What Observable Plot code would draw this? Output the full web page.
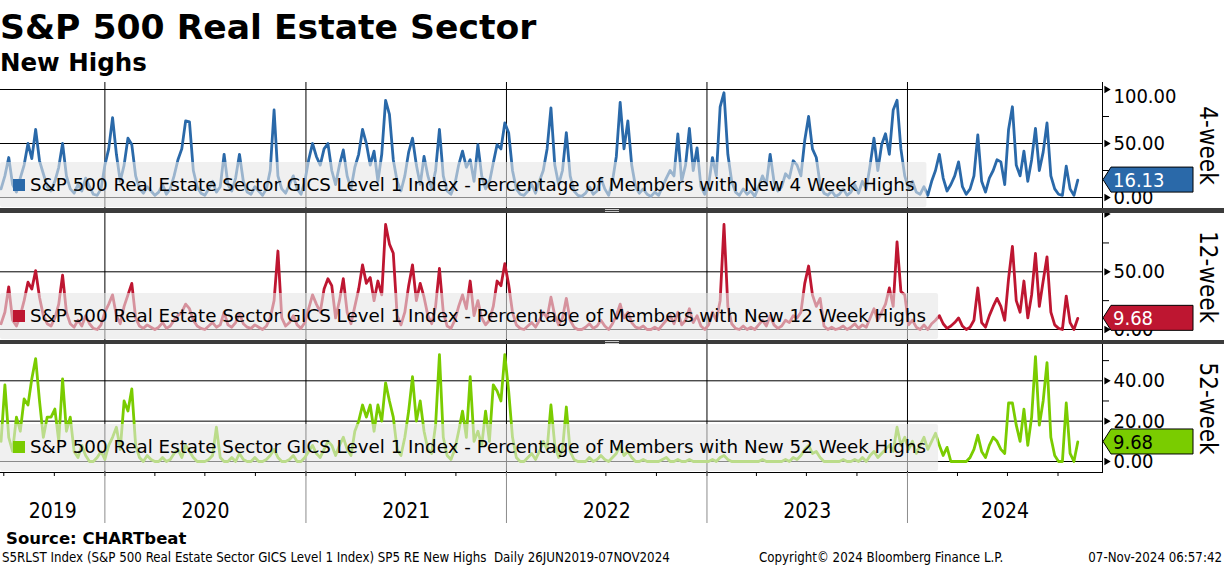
<!DOCTYPE html>
<html>
<head>
<meta charset="utf-8">
<script src="https://cdn.jsdelivr.net/npm/d3@7"></script>
<script src="https://cdn.jsdelivr.net/npm/@observablehq/plot@0.6"></script>
<style>
html,body{margin:0;padding:0;background:#fff;}
#root{position:relative;width:1224px;height:566px;overflow:hidden;background:#fff;}
.panel{position:absolute;left:0;}
.sep{position:absolute;left:0;width:1224px;background:#3b3b3b;}
.handle{position:absolute;left:605px;width:14px;height:1px;background:#c8c8c8;}
svg{display:block;}
</style>
</head>
<body>
<div id="root"></div>
<script>
// ---------------- data ----------------
const title = "S&P 500 Real Estate Sector";
const subtitle = "New Highs";
const source = "Source: CHARTbeat";
const footLeft = "S5RLST Index (S&P 500 Real Estate Sector GICS Level 1 Index) SP5 RE New Highs  Daily 26JUN2019-07NOV2024";
const footMid = "Copyright\u00A9 2024 Bloomberg Finance L.P.";
const footRight = "07-Nov-2024 06:57:42";

const years = [2019, 2020, 2021, 2022, 2023, 2024];
const firstDate = "2019-06-26";   // first weekly observation
const domainEnd = "2024-12-21";   // right end of the time axis
const stepDays = 7;

const panelLabels = ["4-week", "12-week", "52-week"];
const legendTexts = [
  "S&P 500 Real Estate Sector GICS Level 1 Index - Percentage of Members with New 4 Week Highs",
  "S&P 500 Real Estate Sector GICS Level 1 Index - Percentage of Members with New 12 Week Highs",
  "S&P 500 Real Estate Sector GICS Level 1 Index - Percentage of Members with New 52 Week Highs"
];

const fourWeek = [
  8,20,37,12,5,18,30,50,36,63, 34,22,10,6,15,28,50,20,8,4,
  12,6,18,10,3,2,8,30,45,74, 40,15,30,55,49,20,8,4,10,6,
  2,5,12,3,8,20,35,45,71,70, 25,10,4,2,8,15,5,10,40,12,
  6,18,40,15,5,3,10,6,2,8, 25,81,20,8,4,12,20,8,3,15,
  35,50,38,30,45,50,25,12,30,44, 20,8,28,40,63,50,30,43,15,40,
  90,77,35,15,6,20,42,55,30,12, 38,20,8,25,63,20,6,3,12,30,
  43,28,35,15,49,20,8,14,32,49, 45,69,60,25,8,3,2,6,12,4,
  15,25,45,83,30,12,25,60,20,6, 2,1,4,10,3,6,18,8,2,15,
  38,88,45,71,30,10,4,8,3,1, 5,2,10,18,25,20,59,15,30,64,
  25,46,10,3,12,37,20,84,97,40, 15,5,2,8,3,6,1,10,20,12,
  40,15,6,10,22,18,34,30,20,53, 75,45,37,12,4,2,6,1,3,8,
  2,5,12,4,15,8,30,55,25,49, 59,40,81,90,45,20,8,15,5,3,
  10,2,15,25,40,18,6,12,20,33, 10,3,8,20,58,15,5,18,25,35,
  33,12,63,84,30,20,43,15,35,64, 25,42,69,20,8,3,2,29,8,2,
  16.13
];

const twelveWeek = [
  5,15,37,8,3,12,25,41,35,51, 28,12,5,3,10,22,47,15,5,2,
  8,3,12,5,1,0,4,15,22,30, 12,5,20,30,40,10,3,1,4,2,
  0,2,6,1,3,8,12,15,22,18, 8,3,1,0,3,6,2,4,15,4,
  2,6,14,5,2,1,4,2,0,3, 10,25,68,10,3,6,12,4,1,6,
  18,30,22,15,35,44,38,10,25,44, 15,5,20,35,56,40,45,25,42,30,
  91,74,66,12,4,15,38,56,25,40, 28,12,5,20,53,15,3,1,8,20,
  30,18,42,12,25,10,4,8,20,42, 38,57,39,15,4,1,0,3,6,2,
  8,15,10,28,12,4,10,27,8,2, 0,0,2,5,1,3,8,3,0,5,
  12,22,10,15,6,2,1,3,0,0, 2,0,4,8,12,5,15,4,8,18,
  6,12,3,0,4,15,8,25,91,20, 5,1,0,3,0,2,0,4,8,3,
  12,4,1,3,8,6,12,10,15,40, 55,30,20,27,3,0,2,0,1,3,
  0,2,5,1,4,2,10,18,8,15, 22,36,20,76,33,30,4,8,2,0,
  4,0,5,8,12,5,1,3,6,10, 3,0,2,8,36,6,2,12,20,27,
  20,8,44,72,25,15,42,10,30,66, 20,42,63,15,4,1,0,29,6,0,
  9.68
];

const fiftyTwoWeek = [
  10,38,12,5,22,15,31,28,41,51, 30,12,22,22,26,10,41,15,22,5,
  2,8,3,0,0,2,5,1,8,12, 17,6,30,25,36,8,2,0,3,1,
  0,0,2,0,1,4,6,2,8,5, 2,0,0,0,1,3,17,2,0,0,
  2,0,4,1,0,0,2,0,0,1, 3,6,2,0,0,1,3,0,0,2,
  5,8,4,2,6,10,8,3,8,12, 6,3,15,20,28,22,28,15,28,20,
  39,30,22,6,3,12,25,42,20,30, 15,6,4,18,53,12,3,1,6,15,
  25,12,42,10,15,8,25,10,38,35, 30,53,35,12,2,0,0,2,4,1,
  5,10,6,28,8,2,6,27,5,1, 0,0,0,2,0,1,3,1,0,2,
  4,8,3,5,2,0,0,1,0,0, 0,0,1,2,0,0,1,0,0,1,
  0,0,0,0,0,1,0,2,3,1, 0,0,0,0,0,0,0,0,1,0,
  0,0,0,0,1,0,2,1,3,6, 8,4,5,2,0,0,0,0,0,1,
  0,0,1,0,2,0,3,5,2,4, 6,8,5,17,8,12,6,10,4,8,
  12,6,10,14,8,3,7,0,0,0, 0,0,2,6,13,5,2,8,12,10,
  6,4,29,29,18,10,26,8,22,52, 18,30,49,12,3,0,0,29,4,0,
  9.68
];

// tick values per panel
const grid1 = [0, 50, 100], major1 = [0, 50, 100], minor1 = [25, 75], labels1 = [0, 50, 100];
const grid2 = [0, 50], major2 = [0, 50, 100], minor2 = [25, 75], labels2 = [0, 50];
const grid3 = [0, 20, 40], major3 = [0, 20, 40], minor3 = [10, 30, 50], labels3 = [0, 20, 40];

// ---------------- layout / style ----------------
const FONT = "'DejaVu Sans Condensed','DejaVu Sans',sans-serif";
const WIDE = "'DejaVu Sans',sans-serif";
const colors = ["#2A69A9", "#BE1631", "#7ACC00"];
const valueTextColors = ["#ffffff", "#ffffff", "#000000"];

const parse = d3.utcParse("%Y-%m-%d");
const start = parse(firstDate);
const xDomain = [d3.utcDay.offset(start, -1), parse(domainEnd)];
const dates = fourWeek.map((_, i) => d3.utcDay.offset(start, i * stepDays));
const yearStarts = years.slice(1).map(y => new Date(Date.UTC(y, 0, 1)));
const quarterStarts = d3.utcMonth.every(3).range(xDomain[0], xDomain[1]);
const yearMids = years.map(y => {
  const a = Math.max(+new Date(Date.UTC(y, 0, 1)), +xDomain[0]);
  const b = Math.min(+new Date(Date.UTC(y + 1, 0, 1)), +xDomain[1]);
  return {date: new Date((a + b) / 2), label: String(y)};
});

const panels = [
  {values: fourWeek, top: 82, height: 126, marginBottom: 0, yDomain: [0, 100], yRange: [115, 7],
   grid: grid1, major: major1, minor: minor1, labels: labels1},
  {values: twelveWeek, top: 213, height: 127, marginBottom: 0, yDomain: [0, 50], yRange: [116, 58.3],
   grid: grid2, major: major2, minor: minor2, labels: labels2},
  {values: fiftyTwoWeek, top: 344, height: 190, marginBottom: 62, yDomain: [0, 40], yRange: [117, 36.3],
   grid: grid3, major: major3, minor: minor3, labels: labels3, xAxis: true}
];

const root = d3.select("#root");

// header & footer text layer
const T = root.append("svg").attr("width", 1224).attr("height", 566)
  .style("position", "absolute").style("left", "0px").style("top", "0px");
T.append("text").attr("x", 0).attr("y", 39).attr("font-family", WIDE).attr("font-weight", "bold")
  .attr("font-size", 34.6).text(title);
T.append("text").attr("x", 0).attr("y", 71).attr("font-family", WIDE).attr("font-weight", "bold")
  .attr("font-size", 24.5).text(subtitle);
T.append("text").attr("x", 6).attr("y", 544).attr("font-family", WIDE).attr("font-weight", "bold")
  .attr("font-size", 16.5).text(source);
T.append("text").attr("x", 2).attr("y", 562).attr("font-family", FONT).attr("font-size", 13.2)
  .style("white-space", "pre").text(footLeft);
T.append("text").attr("x", 759).attr("y", 562).attr("font-family", FONT).attr("font-size", 13.2).text(footMid);
T.append("text").attr("x", 1222).attr("y", 562).attr("text-anchor", "end").attr("font-family", FONT)
  .attr("font-size", 13.2).text(footRight);

panels.forEach((p, idx) => {
  const data = p.values.map((v, k) => ({date: dates[k], value: v}));
  const [d0, d1] = p.yDomain, [r0, r1] = p.yRange;
  const ypx = v => r0 + (v - d0) / (d1 - d0) * (r1 - r0);
  const normalLabels = p.labels.filter(v => ypx(v) >= 12);
  const topLabels = p.labels.filter(v => ypx(v) < 12);

  const marks = [
    Plot.ruleY(p.grid, {stroke: "#000", strokeWidth: 1}),
    Plot.ruleX(yearStarts, {stroke: "#000", strokeWidth: 1}),
    Plot.lineY(data, {x: "date", y: "value", stroke: colors[idx], strokeWidth: 2.8,
      strokeLinejoin: "round", clip: true}),
    Plot.ruleX([xDomain[1]], {stroke: "#000", strokeWidth: 1}),
    Plot.axisY({anchor: "right", ticks: p.minor, tickSize: 6, tickFormat: () => "", label: null, stroke: "#000"}),
    Plot.dot(p.major, {y: d => d, frameAnchor: "right", symbol: "triangle", rotate: 90, r: 2.7,
      fill: "#000", stroke: null, dx: 4}),
    Plot.text(normalLabels, {y: d => d, frameAnchor: "right", text: d => d.toFixed(2),
      textAnchor: "start", lineAnchor: "middle", dx: 11, fontSize: 20, fill: "#000"}),
    Plot.text(topLabels, {y: d => d, frameAnchor: "right", text: d => d.toFixed(2),
      textAnchor: "start", lineAnchor: "middle", dx: 11, dy: 7, fontSize: 20, fill: "#000"}),
    Plot.text([panelLabels[idx]], {frameAnchor: "right", textAnchor: "middle", lineAnchor: "middle",
      rotate: 90, dx: 105, fontSize: 24, fill: "#000"})
  ];
  if (p.xAxis) {
    marks.push(
      Plot.frame({anchor: "bottom", stroke: "#000"}),
      Plot.axisX({ticks: quarterStarts, tickSize: 4, tickFormat: () => "", label: null, stroke: "#000"}),
      Plot.axisX({ticks: yearStarts, tickSize: 51, tickFormat: () => "", label: null, stroke: "#8c8c8c"}),
      Plot.text(yearMids, {x: "date", text: "label", frameAnchor: "bottom", lineAnchor: "middle",
        dy: 39, fontSize: 21, fill: "#000"})
    );
  }

  const chart = Plot.plot({
    width: 1224, height: p.height,
    marginTop: 0, marginLeft: 0, marginRight: 122, marginBottom: p.marginBottom,
    x: {type: "utc", domain: xDomain, axis: null},
    y: {domain: p.yDomain, range: p.yRange, axis: null},
    style: {fontFamily: FONT, background: "transparent", overflow: "visible"},
    marks
  });

  const holder = root.append("div").attr("class", "panel").style("top", p.top + "px");
  holder.node().appendChild(chart);

  const svg = d3.select(chart);
  const yS = chart.scale("y"), xS = chart.scale("x");
  const xr = xS.apply(xDomain[1]);
  const frameBottom = p.height - p.marginBottom;
  const boxTop = 80;
  const g = svg.append("g").attr("text-anchor", "start");
  const box = g.append("rect").attr("x", 0).attr("y", boxTop).attr("height", frameBottom - boxTop - 1)
    .attr("rx", 2).attr("fill", "#e6e6e6").attr("fill-opacity", 0.6);
  g.append("rect").attr("x", 13).attr("y", boxTop + 17).attr("width", 12).attr("height", 12)
    .attr("fill", colors[idx]);
  const t = g.append("text").attr("x", 30).attr("y", boxTop + 29).attr("font-family", WIDE)
    .attr("text-anchor", "start").attr("font-size", 18.3).attr("fill", "#000").text(legendTexts[idx]);
  const tl = t.node().getComputedTextLength();
  box.attr("width", 30 + tl + 12);

  const last = p.values[p.values.length - 1];
  const cy = yS.apply(last);
  g.append("path")
    .attr("d", `M${xr + 1},${cy} L${xr + 9},${cy - 12.5} H${xr + 91} V${cy + 12.5} H${xr + 9} Z`)
    .attr("fill", colors[idx]).attr("stroke", "#000").attr("stroke-width", 1);
  g.append("text").attr("x", xr + 11).attr("y", cy).attr("dy", "0.36em").attr("font-family", FONT)
    .attr("text-anchor", "start").attr("font-size", 20).attr("fill", valueTextColors[idx]).text(last.toFixed(2));
});

// panel separators
[[208, 5], [340, 4]].forEach(([top, h]) => {
  root.append("div").attr("class", "sep").style("top", top + "px").style("height", h + "px");
  root.append("div").attr("class", "handle").style("top", (top + 1) + "px");
  root.append("div").attr("class", "handle").style("top", (top + 3) + "px");
});
</script>
</body>
</html>
